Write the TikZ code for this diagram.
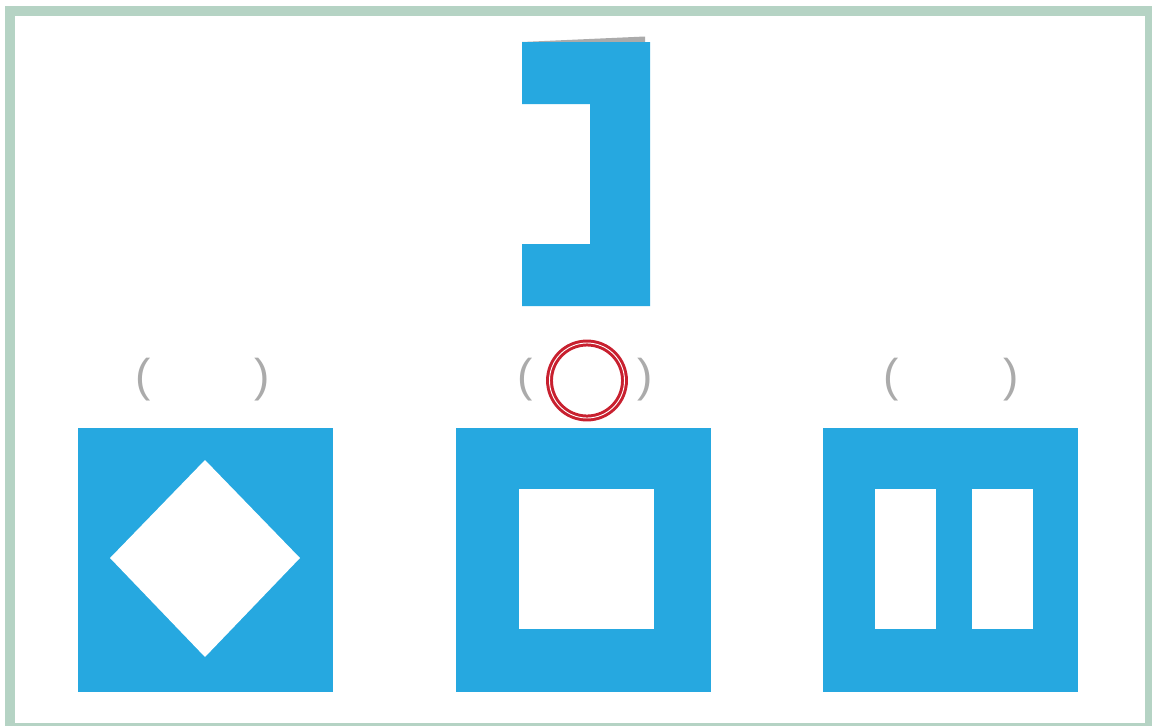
\documentclass[tikz,border=0pt]{standalone}
\usepackage{fontspec}
\setmainfont{Liberation Sans}
\definecolor{skyblue}{HTML}{26A8E0}
\definecolor{framegreen}{HTML}{B5D3C4}
\definecolor{parengrey}{HTML}{ABABAB}
\definecolor{ringred}{HTML}{C8202F}
\definecolor{foldgrey}{HTML}{ABABAB}
\begin{document}
\begin{tikzpicture}[x=1pt,y=-1pt,
  bluefill/.style={fill=skyblue,draw=none},
  holefill/.style={fill=white,draw=none},
  paren/.style={text=parengrey,font=\fontsize{46}{46}\selectfont,inner sep=0pt,anchor=center},
  ring/.style={draw=ringred,double=white,double distance=0.9pt,line width=3pt}]
\useasboundingbox (0,0) rectangle (1152,726);
\clip (0,0) rectangle (1152,726);
\fill[white] (0,0) rectangle (1152,726);
% frame
\draw[framegreen,line width=10pt] (10,10.5) rectangle (1150,728);
% top figure
\fill[foldgrey] (522,42) -- (645,36.5) -- (645,42) -- cycle;
\fill[bluefill] (522,42) -- (650,42) -- (650,306) -- (522,306) -- (522,244) -- (590,244) -- (590,104) -- (522,104) -- cycle;
% option A
\fill[bluefill] (78,428) rectangle (333,692);
\fill[holefill] (205,460) -- (300,558) -- (205,657) -- (110,558) -- cycle;
\node[paren] (a1) at (143,380) {(};
\node[paren] (a2) at (262,380) {)};
% option B
\fill[bluefill] (456,428) rectangle (711,692);
\fill[holefill] (519,489) rectangle (654,629);
\node[paren] (b1) at (525,380) {(};
\node[paren] (b2) at (645,380) {)};
\node[ring,circle,minimum size=75pt,inner sep=0pt] (mark) at (587,380.5) {};
% option C
\fill[bluefill] (823,428) rectangle (1078,692);
\fill[holefill] (875,489) rectangle (936,629);
\fill[holefill] (972,489) rectangle (1033,629);
\node[paren] (c1) at (891,380) {(};
\node[paren] (c2) at (1011,380) {)};
\end{tikzpicture}
\end{document}
